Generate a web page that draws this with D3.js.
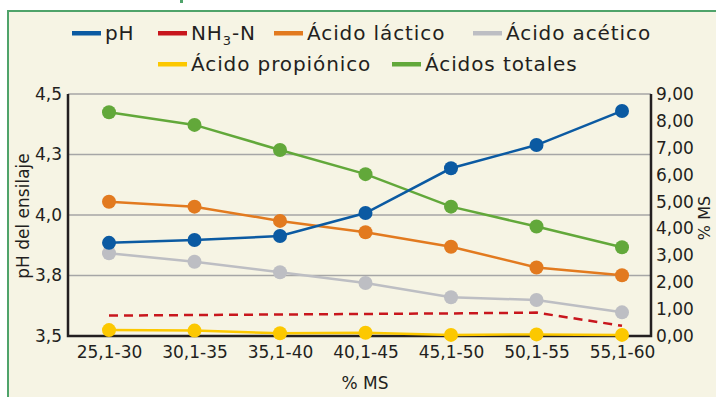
<!DOCTYPE html>
<html>
<head>
<meta charset="utf-8">
<script src="https://cdn.jsdelivr.net/npm/d3@7"></script>
<style>
  body { margin: 0; background: #fff; }
  svg text { font-family: "DejaVu Sans", sans-serif; fill: #231f20; }
</style>
</head>
<body>
<svg id="drawing_region"></svg>
<script>
// categories (% MS)
var categories = ['25,1-30', '30,1-35', '35,1-40', '40,1-45', '45,1-50', '50,1-55', '55,1-60'];

// left axis: pH
var ph = [3.885, 3.897, 3.913, 4.008, 4.193, 4.289, 4.430];

// right axis: % MS
var nh3n = [0.76, 0.78, 0.80, 0.82, 0.84, 0.87, 0.38];
var lactico = [4.99, 4.81, 4.28, 3.86, 3.32, 2.55, 2.26];
var acetico = [3.08, 2.76, 2.37, 1.97, 1.44, 1.34, 0.88];
var propionico = [0.22, 0.20, 0.10, 0.12, 0.04, 0.06, 0.04];
var totales = [8.32, 7.85, 6.92, 6.02, 4.81, 4.07, 3.30];

var leftTicks = [3.5, 3.75, 4.0, 4.25, 4.5];
var rightTicks = [0, 1, 2, 3, 4, 5, 6, 7, 8, 9];

var series = [
    {name: 'NH3-N', values: nh3n, color: '#c8161d', axis: 'right', dashed: true},
    {name: 'Ácido propiónico', values: propionico, color: '#fcc800', axis: 'right'},
    {name: 'Ácido acético', values: acetico, color: '#bdbec3', axis: 'right'},
    {name: 'Ácido láctico', values: lactico, color: '#e27a1f', axis: 'right'},
    {name: 'Ácidos totales', values: totales, color: '#62a83a', axis: 'right'},
    {name: 'pH', values: ph, color: '#0b5aa2', axis: 'left'}
];

var width = 716, height = 397;
var margin = {top: 94, right: 65, bottom: 61, left: 68};
var inner_width = width - margin.left - margin.right;
var inner_height = height - margin.top - margin.bottom;

var svg = d3.select('#drawing_region')
    .attr('width', width)
    .attr('height', height);

// panel
svg.append('rect')
    .attr('x', 8).attr('y', 11)
    .attr('width', width).attr('height', height)
    .attr('fill', '#f6f4e4')
    .attr('stroke', '#4fa36a')
    .attr('stroke-width', 2);

// bit of the header above the panel
svg.append('rect')
    .attr('x', 180).attr('y', 0)
    .attr('width', 3).attr('height', 3)
    .attr('fill', '#4fa36a');

var chart = svg.append('g')
    .attr('transform', `translate(${margin.left}, ${margin.top})`);

var xscale = d3.scalePoint()
    .domain(categories)
    .range([41, inner_width - 29]);

var yleft = d3.scaleLinear()
    .domain([3.5, 4.5])
    .range([inner_height, 0]);

var yright = d3.scaleLinear()
    .domain([0, 9])
    .range([inner_height, 0]);

// gridlines
chart.selectAll('.grid').data(leftTicks).enter()
    .append('line')
    .attr('x1', 0).attr('x2', inner_width)
    .attr('y1', d => yleft(d)).attr('y2', d => yleft(d))
    .attr('stroke', '#a6a6a6')
    .attr('stroke-width', 1.5);

// axes
var fmtLeft = v => d3.format('.1f')(v).replace('.', ',');
var fmtRight = v => d3.format('.2f')(v).replace('.', ',');

var yaxisL = d3.axisLeft(yleft).tickValues(leftTicks).tickFormat(fmtLeft).tickSize(0).tickPadding(6);
var yaxisR = d3.axisRight(yright).tickValues(rightTicks).tickFormat(fmtRight).tickSize(0).tickPadding(5);
var xaxis = d3.axisBottom(xscale).tickSize(0).tickPadding(10);

var gl = chart.append('g').call(yaxisL);
var gr = chart.append('g').attr('transform', `translate(${inner_width}, 0)`).call(yaxisR);
var gx = chart.append('g').attr('transform', `translate(0, ${inner_height})`).call(xaxis);

[gl, gr, gx].forEach(g => {
    g.select('.domain').remove();
    g.selectAll('text').style('font-size', '17px').attr('fill', '#231f20');
});

// axis frame lines
chart.append('path')
    .attr('d', `M0,0 V${inner_height} H${inner_width} V0`)
    .attr('fill', 'none')
    .attr('stroke', '#231f20')
    .attr('stroke-width', 2.5);

// lines and markers
series.forEach(s => {
    var ys = s.axis === 'left' ? yleft : yright;
    var line = d3.line()
        .x((d, i) => xscale(categories[i]))
        .y(d => ys(d));
    chart.append('path')
        .datum(s.values)
        .attr('d', line)
        .attr('fill', 'none')
        .attr('stroke', s.color)
        .attr('stroke-width', 2.5)
        .attr('stroke-dasharray', s.dashed ? '9,6' : null);
    if (!s.dashed) {
        chart.selectAll(null).data(s.values).enter()
            .append('circle')
            .attr('cx', (d, i) => xscale(categories[i]))
            .attr('cy', d => ys(d))
            .attr('r', 7)
            .attr('fill', s.color);
    }
});

// axis titles
svg.append('text')
    .attr('transform', 'translate(29, 216) rotate(-90)')
    .attr('text-anchor', 'middle')
    .style('font-size', '17px')
    .text('pH del ensilaje');

svg.append('text')
    .attr('transform', 'translate(710, 218) rotate(-90)')
    .attr('text-anchor', 'middle')
    .style('font-size', '16px')
    .text('% MS');

svg.append('text')
    .attr('x', 365).attr('y', 389)
    .attr('text-anchor', 'middle')
    .style('font-size', '17px')
    .text('% MS');

// legend
var legendItems = [
    {label: 'pH', color: '#0b5aa2', x: 72, y: 33},
    {label: 'NH3-N', color: '#c8161d', x: 158, y: 33},
    {label: 'Ácido láctico', color: '#e27a1f', x: 274, y: 33},
    {label: 'Ácido acético', color: '#bdbec3', x: 473, y: 33},
    {label: 'Ácido propiónico', color: '#fcc800', x: 158, y: 64},
    {label: 'Ácidos totales', color: '#62a83a', x: 392, y: 64}
];

var legend = svg.append('g');
legendItems.forEach(d => {
    legend.append('rect')
        .attr('x', d.x).attr('y', d.y - 2)
        .attr('width', 29).attr('height', 4.5)
        .attr('fill', d.color);
    var t = legend.append('text')
        .attr('x', d.x + 33).attr('y', d.y + 7)
        .style('font-size', '20px')
        .style('letter-spacing', '0.9px');
    if (d.label === 'NH3-N') {
        t.append('tspan').text('NH');
        t.append('tspan').text('3').attr('dy', 5).style('font-size', '13px');
        t.append('tspan').text('-N').attr('dy', -5);
    } else {
        t.text(d.label);
    }
});
</script>
</body>
</html>
